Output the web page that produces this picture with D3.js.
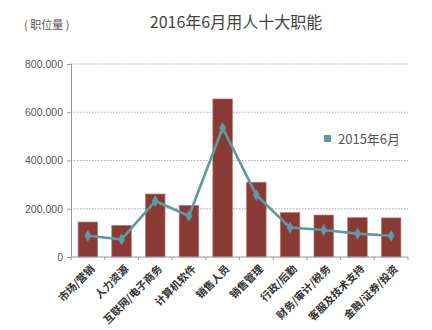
<!DOCTYPE html>
<html>
<head>
<meta charset="utf-8">
<script src="https://cdn.jsdelivr.net/npm/d3@7"></script>
<style>
  html, body { margin: 0; padding: 0; background: #fff; }
  svg { display: block; }
  text { font-family: "Noto Sans CJK SC", "Noto Sans", sans-serif; }
</style>
</head>
<body>
<svg id="chart" width="432" height="330"></svg>
<script>
// Job functions (categories)
const categories = ["市场/营销", "人力资源", "互联网/电子商务", "计算机软件", "销售人员",
  "销售管理", "行政/后勤", "财务/审计/税务", "客服及技术支持", "金融/证券/投资"];
// Openings, June 2016 (bars)
const values2016 = [145000, 131000, 261000, 214000, 655000, 310000, 184000, 174000, 163000, 162000];
// Openings, June 2015 (line)
const values2015 = [88000, 73000, 232000, 170000, 535000, 257000, 122000, 112000, 97000, 88000];
const yTicks = [0, 200000, 400000, 600000, 800000];
const titleText = "2016年6月用人十大职能";
const unitText = "( 职位量 )";
const legendText = "2015年6月";

const svg = d3.select("#chart");
const margin = { left: 71, right: 24, top: 64, bottom: 73 };
const W = 432, H = 330;

const x = d3.scaleBand().domain(categories)
  .range([margin.left, W - margin.right]).paddingInner(0.42).paddingOuter(0.21);
const y = d3.scaleLinear().domain([0, 800000]).range([H - margin.bottom, margin.top]);

// Title and unit
svg.append("text").attr("x", 236).attr("y", 28).attr("text-anchor", "middle")
  .attr("font-size", 16).attr("fill", "#444").text(titleText);
svg.append("text").attr("x", 24).attr("y", 29)
  .attr("font-size", 11).attr("fill", "#555").text(unitText);

// Gridlines
svg.append("g").selectAll("line").data(yTicks.filter(d => d > 0)).join("line")
  .attr("x1", margin.left).attr("x2", W - margin.right)
  .attr("y1", d => y(d)).attr("y2", d => y(d))
  .attr("stroke", "#999").attr("stroke-width", 0.8).attr("stroke-dasharray", "1.5,1.5");

// Y axis
const yAxis = svg.append("g").attr("transform", `translate(${margin.left},0)`)
  .call(d3.axisLeft(y).tickValues(yTicks).tickFormat(d3.format(",")).tickSize(4).tickPadding(4));
yAxis.select(".domain").attr("stroke", "#999");
yAxis.selectAll(".tick line").attr("stroke", "#999");
yAxis.selectAll(".tick text").attr("font-size", 10.5).attr("fill", "#555")
  .style("font-family", "'Liberation Sans', Arial, sans-serif");

// Bars (2016)
svg.append("g").selectAll("rect").data(values2016).join("rect")
  .attr("x", (d, i) => x(categories[i]))
  .attr("y", d => y(d))
  .attr("width", x.bandwidth())
  .attr("height", d => y(0) - y(d))
  .attr("fill", "#8a3a35").attr("stroke", "#b77a72").attr("stroke-width", 0.7);

// X axis with ticks at band boundaries
const xAxisG = svg.append("g");
xAxisG.append("line").attr("x1", margin.left).attr("x2", W - margin.right)
  .attr("y1", y(0)).attr("y2", y(0)).attr("stroke", "#999");
const step = x.step();
const bounds = d3.range(categories.length + 1).map(i => margin.left + i * step);
xAxisG.selectAll("line.tk").data(bounds).join("line").attr("class", "tk")
  .attr("x1", d => d).attr("x2", d => d).attr("y1", y(0)).attr("y2", y(0) + 3)
  .attr("stroke", "#999");
xAxisG.selectAll("text").data(categories).join("text")
  .attr("transform", d => `translate(${x(d) + x.bandwidth() / 2 + 5},${y(0) + 10}) rotate(-45)`)
  .attr("text-anchor", "end").attr("dy", "0.35em")
  .attr("font-size", 10.5).attr("font-weight", "bold").attr("fill", "#333")
  .text(d => d);

// Line (2015)
const cx = i => x(categories[i]) + x.bandwidth() / 2;
const line = d3.line().x((d, i) => cx(i)).y(d => y(d));
svg.append("path").datum(values2015).attr("d", line)
  .attr("fill", "none").attr("stroke", "#5e9aa2").attr("stroke-width", 2.6)
  .attr("stroke-linejoin", "round");
svg.append("g").selectAll("path").data(values2015).join("path")
  .attr("d", d3.symbol().type(d3.symbolDiamond).size(42))
  .attr("transform", (d, i) => `translate(${cx(i)},${y(d)})`)
  .attr("fill", "#5e9aa2");

// Legend
svg.append("rect").attr("x", 324).attr("y", 135).attr("width", 7).attr("height", 7)
  .attr("fill", "#5e9aa2");
svg.append("text").attr("x", 338).attr("y", 143.5)
  .attr("font-size", 13).attr("fill", "#555").text(legendText);
</script>
</body>
</html>
